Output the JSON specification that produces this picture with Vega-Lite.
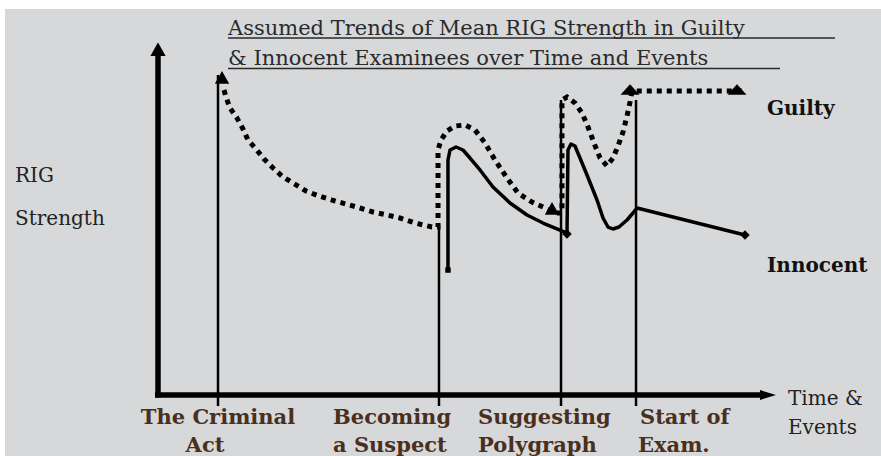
{
  "$schema": "https://vega.github.io/schema/vega-lite/v6.json",
  "width": 881,
  "height": 456,
  "autosize": {"type": "fit", "contains": "padding"},
  "padding": {"left": 5, "top": 9, "right": 0, "bottom": 0},
  "background": "#ffffff",
  "config": {"view": {"stroke": null, "fill": "#d7d8da"}},
  "datasets": {
    "axes": [
      {"t": 0, "t2": 0, "s": -0.7, "s2": 98},
      {"t": -0.5, "t2": 101, "s": 0, "s2": 0}
    ],
    "events": [
      {"event": "The Criminal Act", "t": 10, "s": 91.43, "s2": -3.14},
      {"event": "Becoming a Suspect", "t": 46.83, "s": 48.57, "s2": -3.14},
      {"event": "Suggesting Polygraph", "t": 67.17, "s": 84.29, "s2": -3.14},
      {"event": "Start of Exam.", "t": 79.67, "s": 84.29, "s2": -3.14}
    ],
    "guilty": [
      {"i": 1, "t": 11.0, "s": 87.14}, {"i": 2, "t": 11.33, "s": 85.14}, {"i": 3, "t": 12.0, "s": 82.0},
      {"i": 4, "t": 13.17, "s": 79.14}, {"i": 5, "t": 14.17, "s": 76.0}, {"i": 6, "t": 15.0, "s": 72.86},
      {"i": 7, "t": 16.33, "s": 70.29}, {"i": 8, "t": 17.67, "s": 67.43}, {"i": 9, "t": 19.17, "s": 64.86},
      {"i": 10, "t": 20.83, "s": 62.29}, {"i": 11, "t": 22.5, "s": 60.57}, {"i": 12, "t": 24.67, "s": 58.29},
      {"i": 13, "t": 26.83, "s": 56.86}, {"i": 14, "t": 29.0, "s": 55.71}, {"i": 15, "t": 31.33, "s": 54.57},
      {"i": 16, "t": 33.67, "s": 53.43}, {"i": 17, "t": 35.83, "s": 52.29}, {"i": 18, "t": 38.17, "s": 51.43},
      {"i": 19, "t": 40.33, "s": 50.57}, {"i": 20, "t": 42.83, "s": 49.14}, {"i": 21, "t": 45.67, "s": 48.0},
      {"i": 22, "t": 46.67, "s": 48.0}, {"i": 23, "t": 46.67, "s": 70.0}, {"i": 24, "t": 47.17, "s": 72.86},
      {"i": 25, "t": 48.17, "s": 75.43}, {"i": 26, "t": 49.5, "s": 76.86}, {"i": 27, "t": 51.17, "s": 77.14},
      {"i": 28, "t": 52.83, "s": 75.71}, {"i": 29, "t": 54.5, "s": 72.0}, {"i": 30, "t": 56.17, "s": 67.14},
      {"i": 31, "t": 58.17, "s": 62.0}, {"i": 32, "t": 60.0, "s": 57.71}, {"i": 33, "t": 62.33, "s": 55.14},
      {"i": 34, "t": 64.5, "s": 53.43}, {"i": 35, "t": 66.33, "s": 52.0}, {"i": 36, "t": 67.33, "s": 52.0},
      {"i": 37, "t": 67.33, "s": 84.29}, {"i": 38, "t": 68.17, "s": 85.14}, {"i": 39, "t": 69.5, "s": 83.43},
      {"i": 40, "t": 70.67, "s": 80.57}, {"i": 41, "t": 71.67, "s": 76.57}, {"i": 42, "t": 72.67, "s": 72.0},
      {"i": 43, "t": 73.67, "s": 67.71}, {"i": 44, "t": 74.83, "s": 65.43}, {"i": 45, "t": 75.83, "s": 67.71},
      {"i": 46, "t": 76.67, "s": 71.14}, {"i": 47, "t": 77.5, "s": 75.14}, {"i": 48, "t": 78.17, "s": 79.71},
      {"i": 49, "t": 78.67, "s": 83.71}, {"i": 50, "t": 79.0, "s": 86.86}, {"i": 51, "t": 97.83, "s": 86.86}
    ],
    "innocent": [
      {"i": 1, "t": 48.33, "s": 35.71}, {"i": 2, "t": 48.33, "s": 67.14}, {"i": 3, "t": 48.67, "s": 70.0},
      {"i": 4, "t": 49.67, "s": 70.86}, {"i": 5, "t": 50.83, "s": 70.0}, {"i": 6, "t": 52.0, "s": 67.71},
      {"i": 7, "t": 53.67, "s": 64.29}, {"i": 8, "t": 55.83, "s": 59.43}, {"i": 9, "t": 58.67, "s": 54.86},
      {"i": 10, "t": 61.5, "s": 51.43}, {"i": 11, "t": 64.17, "s": 49.14}, {"i": 12, "t": 67.0, "s": 47.14},
      {"i": 13, "t": 68.17, "s": 46.29}, {"i": 14, "t": 68.33, "s": 70.0}, {"i": 15, "t": 68.83, "s": 71.71},
      {"i": 16, "t": 69.5, "s": 71.14}, {"i": 17, "t": 70.33, "s": 67.71}, {"i": 18, "t": 71.5, "s": 62.86},
      {"i": 19, "t": 73.17, "s": 55.71}, {"i": 20, "t": 74.17, "s": 50.57}, {"i": 21, "t": 75.0, "s": 48.0},
      {"i": 22, "t": 75.83, "s": 47.43}, {"i": 23, "t": 76.83, "s": 48.0}, {"i": 24, "t": 78.17, "s": 50.0},
      {"i": 25, "t": 79.17, "s": 52.0}, {"i": 26, "t": 79.83, "s": 53.43}, {"i": 27, "t": 97.83, "s": 45.71}
    ],
    "arrowUp": [
      {"t": 0, "s": 98.29}
    ],
    "arrowRight": [
      {"t": 101.33, "s": 0}
    ],
    "guiltyHeads": [
      {"t": 10.67, "s": 90.29},
      {"t": 65.67, "s": 52.86}
    ],
    "guiltyFlat": [
      {"t": 78.67, "s": 87.14},
      {"t": 96.5, "s": 87.14}
    ],
    "innocentEnds": [
      {"t": 68.17, "s": 46.0},
      {"t": 97.83, "s": 45.71}
    ],
    "innocentStart": [
      {"t": 48.33, "s": 35.71}
    ],
    "title": [
      {"text": "Assumed Trends of Mean RIG Strength in Guilty", "t": 11.67, "s": 102.86},
      {"text": "& Innocent Examinees over Time and Events", "t": 11.67, "s": 94.29}
    ],
    "underlines": [
      {"t": 11.67, "t2": 112.83, "s": 102.0},
      {"t": 11.67, "t2": 103.67, "s": 93.29}
    ],
    "eventLabelsCenter": [
      {"text": "The Criminal", "t": 10, "s": -8.29},
      {"text": "Act", "t": 7.83, "s": -16.29}
    ],
    "eventLabelsLeft": [
      {"text": "Becoming", "t": 29.17, "s": -8.29},
      {"text": "a Suspect", "t": 29.17, "s": -16.29},
      {"text": "Suggesting", "t": 53.33, "s": -8.29},
      {"text": "Polygraph", "t": 53.33, "s": -16.29},
      {"text": "Start of", "t": 80.33, "s": -8.29},
      {"text": "Exam.", "t": 80.0, "s": -16.29}
    ],
    "axisTitles": [
      {"text": "RIG", "t": -23.83, "s": 60.86},
      {"text": "Strength", "t": -23.83, "s": 48.57},
      {"text": "Time &", "t": 105, "s": -2.86},
      {"text": "Events", "t": 105, "s": -11.14}
    ],
    "seriesLabels": [
      {"text": "Guilty", "t": 101.5, "s": 80.0},
      {"text": "Innocent", "t": 101.5, "s": 35.14}
    ]
  },
  "encoding": {
    "x": {"field": "t", "type": "quantitative", "scale": {"domain": [-25.5, 120.5], "nice": false, "zero": false}, "axis": null},
    "y": {"field": "s", "type": "quantitative", "scale": {"domain": [-17.43, 110.29], "nice": false, "zero": false}, "axis": null}
  },
  "layer": [
    {
      "data": {"name": "events"},
      "mark": {"type": "rule", "color": "#000000", "strokeWidth": 2.5},
      "encoding": {"y2": {"field": "s2"}}
    },
    {
      "data": {"name": "axes"},
      "mark": {"type": "rule", "color": "#000000", "strokeWidth": 5.5, "strokeCap": "butt"},
      "encoding": {"x2": {"field": "t2"}, "y2": {"field": "s2"}}
    },
    {
      "data": {"name": "arrowUp"},
      "mark": {"type": "point", "filled": true, "color": "#000000", "opacity": 1, "size": 289, "shape": "M0,-1L0.9,0.6L-0.9,0.6Z"},
      "encoding": {}
    },
    {
      "data": {"name": "arrowRight"},
      "mark": {"type": "point", "filled": true, "color": "#000000", "opacity": 1, "size": 400, "shape": "M1,0L-0.6,0.5L-0.6,-0.5Z"},
      "encoding": {}
    },
    {
      "data": {"name": "guilty"},
      "mark": {"type": "line", "color": "#000000", "strokeWidth": 5, "strokeDash": [5, 5], "strokeCap": "butt", "interpolate": "linear"},
      "encoding": {"order": {"field": "i", "type": "quantitative"}}
    },
    {
      "data": {"name": "guiltyHeads"},
      "mark": {"type": "point", "filled": true, "color": "#000000", "opacity": 1, "size": 256, "shape": "M0,-1L0.9,0.6L-0.9,0.6Z"},
      "encoding": {}
    },
    {
      "data": {"name": "guiltyFlat"},
      "mark": {"type": "point", "filled": true, "color": "#000000", "opacity": 1, "size": 361, "shape": "M0,-0.6L1,0.5L-1,0.5Z"},
      "encoding": {}
    },
    {
      "data": {"name": "innocent"},
      "mark": {"type": "line", "color": "#000000", "strokeWidth": 3.5, "strokeJoin": "round", "interpolate": "linear"},
      "encoding": {"order": {"field": "i", "type": "quantitative"}}
    },
    {
      "data": {"name": "innocentEnds"},
      "mark": {"type": "point", "filled": true, "color": "#000000", "opacity": 1, "size": 90, "shape": "diamond"},
      "encoding": {}
    },
    {
      "data": {"name": "innocentStart"},
      "mark": {"type": "point", "filled": true, "color": "#000000", "opacity": 1, "size": 30, "shape": "square"},
      "encoding": {}
    },
    {
      "data": {"name": "title"},
      "mark": {"type": "text", "align": "left", "baseline": "alphabetic", "font": "DejaVu Serif", "fontSize": 21, "color": "#2a2a2a"},
      "encoding": {"text": {"field": "text"}}
    },
    {
      "data": {"name": "underlines"},
      "mark": {"type": "rule", "color": "#2a2a2a", "strokeWidth": 1.5},
      "encoding": {"x2": {"field": "t2"}}
    },
    {
      "data": {"name": "eventLabelsCenter"},
      "mark": {"type": "text", "align": "center", "baseline": "alphabetic", "font": "DejaVu Serif", "fontSize": 21, "fontWeight": "bold", "color": "#4a2f1d"},
      "encoding": {"text": {"field": "text"}}
    },
    {
      "data": {"name": "eventLabelsLeft"},
      "mark": {"type": "text", "align": "left", "baseline": "alphabetic", "font": "DejaVu Serif", "fontSize": 21, "fontWeight": "bold", "color": "#4a2f1d"},
      "encoding": {"text": {"field": "text"}}
    },
    {
      "data": {"name": "axisTitles"},
      "mark": {"type": "text", "align": "left", "baseline": "alphabetic", "font": "DejaVu Serif", "fontSize": 20, "color": "#222222"},
      "encoding": {"text": {"field": "text"}}
    },
    {
      "data": {"name": "seriesLabels"},
      "mark": {"type": "text", "align": "left", "baseline": "alphabetic", "font": "DejaVu Serif", "fontSize": 20, "fontWeight": "bold", "color": "#111111"},
      "encoding": {"text": {"field": "text"}}
    }
  ]
}
